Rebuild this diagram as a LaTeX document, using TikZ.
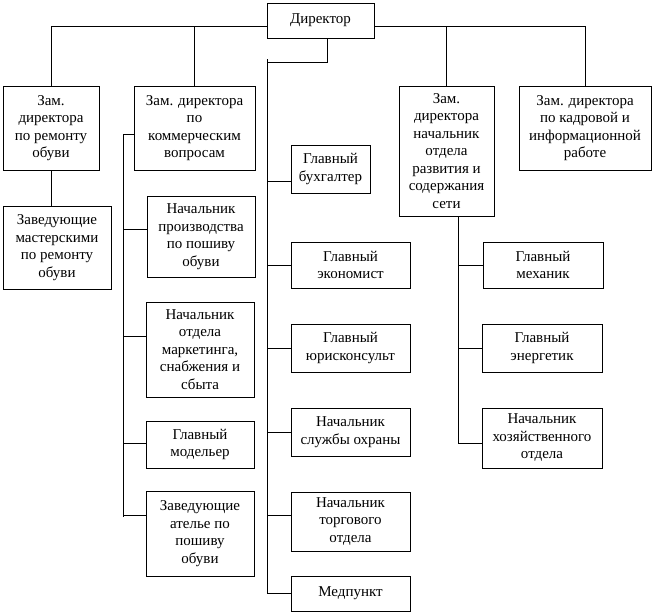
\documentclass[tikz,border=0pt]{standalone}
\usepackage{fontspec}
\setmainfont{Liberation Serif}
\usepackage{tikz}

\begin{document}
\begin{tikzpicture}[x=1pt,y=-1pt,line width=1pt]
  \tikzstyle{box node}=[rectangle,draw,inner sep=0,outer sep=0,align=center,
    font=\fontsize{15}{17.5}\selectfont]
  \useasboundingbox (0,0) rectangle (654,614);
  % top level
  \node(dir)[box node,minimum width=107,minimum height=35] at (320.5,20.5) {Директор};
  \node(zr)[box node,minimum width=96,minimum height=84] at (51,128)
    {Зам.\\директора\\по ремонту\\обуви};
  \node(zk)[box node,minimum width=121,minimum height=84] at (194.5,128)
    {Зам. директора\\по\\коммерческим\\вопросам};
  \node(zs)[box node,minimum width=95,minimum height=130] at (446.5,151)
    {Зам.\\директора\\начальник\\отдела\\развития и\\содержания\\сети};
  \node(zkd)[box node,minimum width=132,minimum height=84] at (585,128)
    {Зам. директора\\по кадровой и\\информационной\\работе};
  % left column
  \node(zm)[box node,minimum width=108,minimum height=83] at (57,247.5)
    {Заведующие\\мастерскими\\по ремонту\\обуви};
  \node(np)[box node,minimum width=108,minimum height=81] at (201,236.5)
    {Начальник\\производства\\по пошиву\\обуви};
  \node(nm)[box node,minimum width=108,minimum height=95] at (200,349.5)
    {Начальник\\отдела\\маркетинга,\\снабжения и\\сбыта};
  \node(gm)[box node,minimum width=108,minimum height=47] at (200,444.5)
    {Главный\\модельер};
  \node(za)[box node,minimum width=108,minimum height=85] at (200,533.5)
    {Заведующие\\ателье по\\пошиву\\обуви};
  % middle column
  \node(gb)[box node,minimum width=79,minimum height=48] at (330.5,169)
    {Главный\\бухгалтер};
  \node(ge)[box node,minimum width=119,minimum height=46] at (350.5,265)
    {Главный\\экономист};
  \node(gu)[box node,minimum width=119,minimum height=48] at (350.5,348)
    {Главный\\юрисконсульт};
  \node(no)[box node,minimum width=119,minimum height=48] at (350.5,432)
    {Начальник\\службы охраны};
  \node(nt)[box node,minimum width=119,minimum height=59] at (350.5,521.5)
    {Начальник\\торгового\\отдела};
  \node(med)[box node,minimum width=119,minimum height=35] at (350.5,593.5)
    {Медпункт};
  % right column
  \node(gmx)[box node,minimum width=120,minimum height=46] at (543,265)
    {Главный\\механик};
  \node(gen)[box node,minimum width=120,minimum height=48] at (542,348)
    {Главный\\энергетик};
  \node(nh)[box node,minimum width=120,minimum height=60] at (542,438)
    {Начальник\\хозяйственного\\отдела};

  % connectors from director
  \coordinate (tl) at ([yshift=-5.5]dir.west);
  \coordinate (tr) at ([yshift=-5.5]dir.east);
  \draw (zr.north) |- (tl);
  \draw (zk.north) -- (zk.north |- tl);
  \draw (tr) -| (zkd.north);
  \draw (zs.north) -- (zs.north |- tr);
  % middle spine
  \coordinate (ms) at (267,62);
  \draw ([xshift=6.5]dir.south) |- (ms);
  \draw ([yshift=3]ms) |- (med.west);
  \draw ([yshift=-12.5]gb.west) -- ++(-24,0);
  \draw (ge.west) -- ++(-24,0);
  \draw (gu.west) -- ++(-24,0);
  \draw (no.west) -- ++(-24,0);
  \draw ([yshift=6.5]nt.west) -- ++(-24,0);
  % left branches
  \draw (zr.south) -- (zr.south |- zm.north);
  \draw ([yshift=-6]zk.west) -- ++(-11,0) -- ++(0,383);
  \draw ([yshift=7.5]np.west) -- ++(-24,0);
  \draw ([yshift=13.5]nm.west) -- ++(-23,0);
  \draw ([yshift=1.5]gm.west) -- ++(-23,0);
  \draw ([yshift=18.5]za.west) -- ++(-23,0);
  % right branches
  \draw ([xshift=12]zs.south) |- ([yshift=-5]nh.west);
  \draw (gmx.west) -- ++(-24,0);
  \draw (gen.west) -- ++(-23,0);
\end{tikzpicture}
\end{document}
